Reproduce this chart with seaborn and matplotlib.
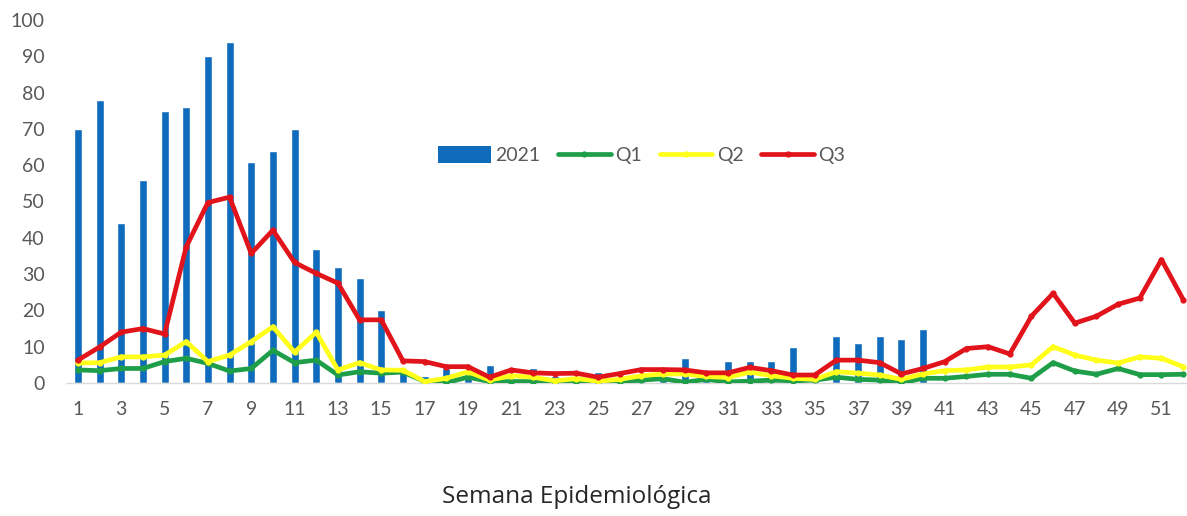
import matplotlib
matplotlib.use("Agg")
import matplotlib.pyplot as plt
from matplotlib.lines import Line2D
from matplotlib.patches import Patch
import numpy as np
import seaborn as sns

weeks = list(range(1, 53))
tick_weeks = list(range(1, 53, 2))

cases_2021 = [70, 78, 44, 56, 75, 76, 90, 94, 61, 64, 70, 37, 32, 29, 20, 4,
              2, 4, 2, 5, 1, 4, 2, 2, 3, 1, 2, 1, 7, 1, 6, 6,
              6, 10, 2, 13, 11, 13, 12, 15, 0, 0, 0, 0, 0, 0, 0, 0,
              0, 0, 0, 0]
q1 = [3.6, 3.4, 4, 4, 5.9, 6.8, 5.4, 3.3, 4, 9, 5.6, 6.3, 2.2, 3.1, 2.7, 3,
      0.4, 0.1, 1.6, 0.4, 0.4, 0.4, 0.2, 0.2, 0.2, 0.3, 0.8, 1.2, 0.2, 1, 0.3, 0.5,
      0.8, 0.6, 0.8, 1.6, 1, 0.8, 0, 1.3, 1.3, 1.8, 2.4, 2.4, 1.3, 5.6, 3.3, 2.4,
      4, 2.3, 2.3, 2.4]
q2 = [5.5, 5.6, 7.2, 7.2, 7.7, 11.4, 5.9, 7.7, 11.4, 15.5, 8.5, 14, 3.6, 5.6, 3.6, 3.5,
      0.4, 1.3, 3.1, 0.8, 2, 1.6, 0.6, 1.2, 0.5, 1, 2, 2.5, 2.5, 1.8, 1.5, 3,
      2, 1.3, 1, 3.1, 2.7, 2.2, 1, 2.5, 3.4, 3.6, 4.4, 4.4, 5, 10, 7.7, 6.3,
      5.5, 7.2, 6.8, 4.5]
q3 = [6.3, 9.9, 14, 15, 13.5, 37.5, 49.7, 51.2, 35.7, 42.1, 33.2, 30.2, 27.5, 17.4, 17.4, 6.1,
      5.9, 4.5, 4.5, 1.6, 3.6, 2.8, 2.6, 2.7, 1.6, 2.6, 3.7, 3.7, 3.6, 2.8, 2.8, 4.3,
      3.4, 2.2, 2.2, 6.3, 6.3, 5.6, 2.5, 4, 5.9, 9.5, 10, 8, 18.4, 24.7, 16.5, 18.4,
      21.7, 23.4, 34, 23]

BLUE = "#0f6cbd"
GREEN = "#1e9e48"
YELLOW = "#ffff1a"
RED = "#e2141b"
TEXT = "#595959"

sns.set_style("white")
plt.rcParams["font.family"] = ["Lato", "DejaVu Sans"]

fig = plt.figure(figsize=(11.87, 5.16), dpi=100)
ax = fig.add_axes([67 / 1187, 1 - 383 / 516, 1127 / 1187, 363 / 516])

sns.barplot(x=weeks, y=cases_2021, native_scale=True, color=BLUE, saturation=1,
            width=0.37, ax=ax, zorder=1)

for vals, col in [(q1, GREEN), (q2, YELLOW), (q3, RED)]:
    sns.lineplot(x=weeks, y=vals, color=col, linewidth=3.4, marker="o",
                 markersize=4.5, markeredgewidth=0, ax=ax, zorder=3)

ax.set_xlim(0.5, 52.5)
ax.set_ylim(0, 100)
ax.set_xticks(tick_weeks)
ax.set_xticklabels([str(w) for w in tick_weeks])
ax.set_yticks(range(0, 101, 10))
ax.tick_params(axis="x", length=0, pad=13, labelsize=14, labelcolor=TEXT)
ax.tick_params(axis="y", length=0, pad=16, labelsize=14, labelcolor=TEXT)
for side in ("top", "right", "left"):
    ax.spines[side].set_visible(False)
ax.spines["bottom"].set_color("#d9d9d9")
ax.spines["bottom"].set_linewidth(1)
ax.set_xlabel("")
ax.set_ylabel("")

handles = [
    Patch(facecolor=BLUE, edgecolor="none"),
    Line2D([], [], color=GREEN, lw=3.4, marker="o", ms=4.5, mew=0),
    Line2D([], [], color=YELLOW, lw=3.4, marker="o", ms=4.5, mew=0),
    Line2D([], [], color=RED, lw=3.4, marker="o", ms=4.5, mew=0),
]
ax.legend(handles, ["2021", "Q1", "Q2", "Q3"], ncol=4, frameon=False,
          loc="center", bbox_to_anchor=(0.51, 0.628), fontsize=14,
          labelcolor=TEXT, handlelength=2.7, handleheight=1.0,
          handletextpad=0.25, columnspacing=0.9)

fig.text(577 / 1187, 1 - 497 / 516, "Semana Epidemiológica", ha="center",
         va="center", fontsize=17.5, color="#262626",
         family=["Open Sans", "DejaVu Sans"])

fig.savefig("out.png", dpi=100)
